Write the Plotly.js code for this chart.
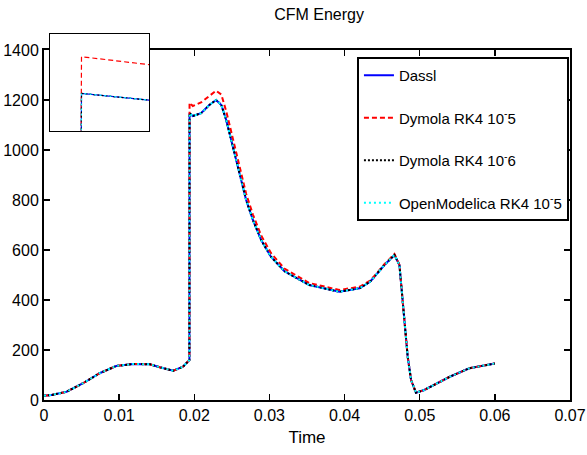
<!DOCTYPE html>
<html>
<head>
<meta charset="utf-8">
<script src="https://cdn.plot.ly/plotly-3.0.1.min.js"></script>
<style>
html,body{margin:0;padding:0;background:#fff;}
#main{position:absolute;left:0;top:0;width:587px;height:455px;}
#inset{position:absolute;left:49px;top:33px;width:101px;height:99px;}
</style>
</head>
<body>
<div id="main"></div>
<div id="inset"></div>
<script>
// ---- data ----
const time = [0, 0.001, 0.003, 0.0052, 0.0074, 0.0096, 0.0118, 0.0141, 0.0154, 0.0172, 0.0185, 0.019, 0.01935,
  0.01937, 0.0198, 0.0209, 0.022, 0.0229, 0.0236, 0.02425, 0.0249, 0.0256, 0.02625, 0.0269, 0.0278, 0.0289, 0.0302,
  0.032, 0.0333, 0.0353, 0.0393, 0.0406, 0.042, 0.0434, 0.044, 0.0453, 0.04664, 0.0473, 0.0476, 0.048, 0.0484,
  0.04885, 0.0495, 0.0506, 0.0528, 0.054, 0.0566, 0.06];
const dassl = [17, 20, 33, 67, 107, 136, 144, 143, 131, 117, 133, 149, 160,
  1147, 1136, 1147, 1180, 1200, 1180, 1120, 1040, 960, 880, 800, 720, 640, 573,
  515, 493, 460, 433, 440, 447, 473, 493, 540, 580, 540, 440, 307, 173,
  80, 29, 40, 73, 93, 127, 146];
const dymolaRK4_1e5 = [17, 20, 33, 67, 107, 136, 144, 143, 131, 117, 133, 149, 160,
  1189, 1176, 1190, 1215, 1237, 1222, 1155, 1075, 990, 905, 825, 742, 658, 588,
  526, 503, 468, 440, 446, 453, 478, 497, 543, 584, 541, 440, 307, 173,
  80, 29, 40, 73, 93, 127, 146];
const dymolaRK4_1e6 = [17, 20, 33, 67, 107, 136, 144, 143, 131, 117, 133, 149, 160,
  1147, 1136, 1147, 1180, 1200, 1180, 1120, 1040, 960, 880, 800, 720, 640, 573,
  515, 493, 460, 433, 440, 447, 473, 493, 540, 580, 540, 440, 307, 173,
  80, 29, 40, 73, 93, 127, 146];
const openModelicaRK4_1e5 = [17, 20, 33, 67, 107, 136, 144, 143, 131, 117, 133, 149, 160,
  1147, 1136, 1147, 1180, 1200, 1180, 1120, 1040, 960, 880, 800, 720, 640, 573,
  515, 493, 460, 433, 440, 447, 473, 493, 540, 580, 540, 440, 307, 173,
  80, 29, 40, 73, 93, 127, 146];
const seriesNames = ['Dassl', 'Dymola RK4 10<sup>-</sup>5', 'Dymola RK4 10<sup>-</sup>6', 'OpenModelica RK4 10<sup>-</sup>5'];
const xTicks = [0, 0.01, 0.02, 0.03, 0.04, 0.05, 0.06, 0.07];
const yTicks = [0, 200, 400, 600, 800, 1000, 1200, 1400];

const FONT = 'Liberation Sans, Arial, Helvetica, sans-serif';
const seriesValues = [dassl, dymolaRK4_1e5, dymolaRK4_1e6, openModelicaRK4_1e5];
const styles = [
  {color: '#0000ff', dash: 'solid'},
  {color: '#ff0000', dash: '5px,3px'},
  {color: '#000000', dash: '2px,2px'},
  {color: '#00ffff', dash: '2px,3px'}
];

function makeTraces(showlegend, width) {
  return seriesValues.map((v, i) => ({
    type: 'scatter', mode: 'lines', x: time, y: v, name: seriesNames[i],
    legendgroup: 'g' + i, showlegend: showlegend,
    line: {color: styles[i].color, dash: styles[i].dash, width: width}
  }));
}

const axisCommon = {
  showgrid: false, zeroline: false, showline: true, linecolor: '#000', linewidth: 2,
  mirror: 'ticks', ticks: 'inside', ticklen: 6, tickwidth: 1.5, tickcolor: '#000',
  tickfont: {family: FONT, size: 16, color: '#000'}
};

const layout = {
  width: 587, height: 455,
  margin: {l: 44, r: 17, t: 50, b: 55},
  paper_bgcolor: '#fff', plot_bgcolor: '#fff',
  font: {family: FONT, color: '#000'},
  title: {text: 'CFM Energy', font: {family: FONT, size: 16, color: '#000'},
    x: 307 / 587, xanchor: 'center', y: 1 - 14 / 455, yanchor: 'middle', xref: 'paper', yref: 'container'},
  xaxis: Object.assign({}, axisCommon, {range: [0, 0.07], tickvals: xTicks,
    ticktext: xTicks.map(v => String(v)),
    title: {text: 'Time', font: {family: FONT, size: 17, color: '#000'}, standoff: 8}}),
  yaxis: Object.assign({}, axisCommon, {range: [0, 1400], tickvals: yTicks,
    ticktext: yTicks.map(v => String(v))}),
  showlegend: true,
  legend: {x: 0.998, xanchor: 'right', y: 0.98, yanchor: 'top',
    bgcolor: '#fff', bordercolor: '#000', borderwidth: 2,
    font: {family: FONT, size: 15, color: '#000'},
    traceorder: 'grouped', tracegroupgap: 20, itemwidth: 30}
};

Plotly.newPlot('main', makeTraces(true, 2), layout, {staticPlot: true, displayModeBar: false});

const insetLayout = {
  width: 101, height: 99,
  margin: {l: 1, r: 1, t: 1, b: 1},
  paper_bgcolor: '#fff', plot_bgcolor: '#fff',
  showlegend: false,
  xaxis: {range: [0.01923, 0.01967], showgrid: false, zeroline: false, showline: true, mirror: true,
    linecolor: '#000', linewidth: 2, ticks: '', showticklabels: false},
  yaxis: {range: [1104, 1215], showgrid: false, zeroline: false, showline: true, mirror: true,
    linecolor: '#000', linewidth: 2, ticks: '', showticklabels: false}
};
Plotly.newPlot('inset', makeTraces(false, 1.2), insetLayout, {staticPlot: true, displayModeBar: false});
</script>
</body>
</html>
